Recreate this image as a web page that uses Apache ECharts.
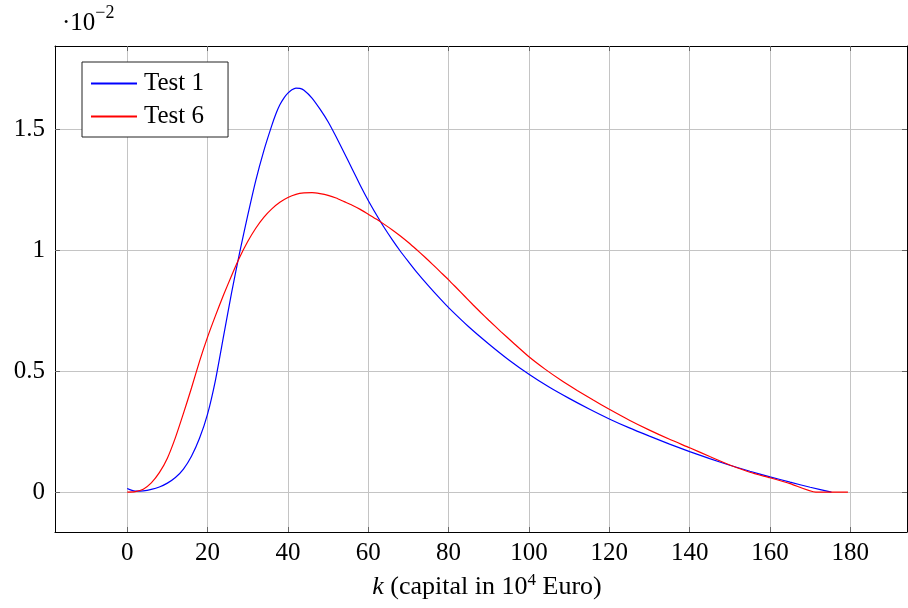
<!DOCTYPE html>
<html><head><meta charset="utf-8">
<script src="https://cdn.jsdelivr.net/npm/echarts@6/dist/echarts.min.js"></script>
<style>html,body{margin:0;padding:0;background:#fff}#c{width:908px;height:608px}</style>
</head><body><div id="c"></div>
<script>
// values in units of 10^-2
const test1X = [0,1,2,4,6,8,10,12,14,16,18,20,22,24,26,28,30,32,34,36,37,38,39,40,41,42,43,44,46,48,50,52,54,56,58,60,62,64,66,68,70,72,75,78,80,85,90,95,100,105,110,115,120,125,130,135,140,145,150,155,160,165,170,175.3];
const test1Y = [0.015,0.008,0.004,0.005,0.011,0.021,0.037,0.06,0.095,0.148,0.222,0.322,0.465,0.645,0.825,0.99,1.143,1.287,1.41,1.515,1.562,1.6,1.628,1.648,1.662,1.669,1.668,1.66,1.628,1.582,1.53,1.468,1.402,1.335,1.268,1.205,1.147,1.092,1.042,0.995,0.952,0.91,0.852,0.797,0.762,0.683,0.612,0.546,0.487,0.434,0.387,0.343,0.302,0.265,0.231,0.198,0.167,0.138,0.111,0.086,0.063,0.041,0.02,0];
const test6X = [0,2,4,6,8,10,12,14,16,18,20,22,24,26,28,30,32,34,36,38,40,42,44,46,48,50,52,54,56,58,60,62,64,66,68,70,72,74,76,78,80,82,84,86,88,90,93,96,100,104,108,112,116,120,125,130,135,140,145,150,155,160,165,171.4,175,179.4];
const test6Y = [0,0.002,0.012,0.038,0.08,0.14,0.225,0.325,0.43,0.54,0.64,0.73,0.815,0.895,0.97,1.035,1.09,1.135,1.17,1.197,1.217,1.23,1.236,1.237,1.233,1.226,1.215,1.2,1.185,1.168,1.148,1.128,1.106,1.083,1.058,1.031,1.002,0.972,0.941,0.909,0.877,0.843,0.809,0.775,0.742,0.71,0.663,0.618,0.559,0.508,0.462,0.42,0.38,0.342,0.297,0.256,0.218,0.183,0.147,0.112,0.082,0.059,0.035,0,0,0];
const xTicks = [0,20,40,60,80,100,120,140,160,180];
const yTicks = [0,0.5,1,1.5];
const seriesNames = ['Test 1','Test 6'];

const FONT = 'Liberation Serif';
const FS = 25;
const chart = echarts.init(document.getElementById('c'));
const pairs = (xs, ys) => xs.map((x, i) => [x, ys[i]]);
const gridCol = '#c4c4c4';
function xAx(pos, labels) {
  return {type:'value', position:pos, min:-17.97, max:194.1,
    axisLine:{show:true, onZero:false, lineStyle:{color:'#000', width:1}},
    axisTick:{show:true, inside:true, length:5, lineStyle:{color:'#666'}, customValues:xTicks},
    axisLabel:{show:labels, customValues:xTicks, fontFamily:FONT, fontSize:FS, color:'#000', margin:9},
    splitLine:{show:labels, lineStyle:{color:gridCol, width:1}}};
}
function yAx(pos, labels) {
  return {type:'value', position:pos, min:-0.165, max:1.843,
    axisLine:{show:true, onZero:false, lineStyle:{color:'#000', width:1}},
    axisTick:{show:true, inside:true, length:5, lineStyle:{color:'#666'}, customValues:yTicks},
    axisLabel:{show:labels, customValues:yTicks, fontFamily:FONT, fontSize:FS, color:'#000', margin:10,
      formatter:v => String(v)},
    splitLine:{show:labels, lineStyle:{color:gridCol, width:1}}};
}
chart.setOption({
  animation:false,
  grid:{left:55, right:1, top:46, bottom:76, show:false},
  xAxis:[xAx('bottom', true), xAx('top', false)],
  yAxis:[yAx('left', true), yAx('right', false)],
  legend:{orient:'vertical', left:82, top:62, data:seriesNames,
    backgroundColor:'#fff', borderColor:'#222', borderWidth:1, padding:[9,24,8,9],
    itemWidth:46, itemHeight:2, itemGap:8, icon:'rect',
    textStyle:{fontFamily:FONT, fontSize:FS, color:'#000', padding:[0,0,0,2]}},
  series:[
    {name:seriesNames[0], type:'line', data:pairs(test1X,test1Y), smooth:0.2, showSymbol:false,
     lineStyle:{color:'#0000ff', width:1.2}, itemStyle:{color:'#0000ff'}},
    {name:seriesNames[1], type:'line', data:pairs(test6X,test6Y), smooth:0.2, showSymbol:false,
     lineStyle:{color:'#ff0000', width:1.2}, itemStyle:{color:'#ff0000'}}
  ],
  graphic:[
    {type:'text', x:62, y:4, style:{
      text:'{n|·10}{s|−2}', rich:{
        n:{fontFamily:FONT, fontSize:FS, color:'#000', verticalAlign:'bottom', lineHeight:32},
        s:{fontFamily:FONT, fontSize:18, color:'#000', verticalAlign:'top', lineHeight:32}}}},
    {type:'text', x:487, y:568, style:{align:'center',
      text:'{i|k}{n| (capital in 10}{s|4}{n| Euro)}', rich:{
        i:{fontFamily:FONT, fontStyle:'italic', fontSize:26, color:'#000', verticalAlign:'bottom', lineHeight:32},
        n:{fontFamily:FONT, fontSize:26, color:'#000', verticalAlign:'bottom', lineHeight:32},
        s:{fontFamily:FONT, fontSize:17, color:'#000', verticalAlign:'top', lineHeight:32, padding:[4,0,0,0]}}}}
  ]
});
</script></body></html>
